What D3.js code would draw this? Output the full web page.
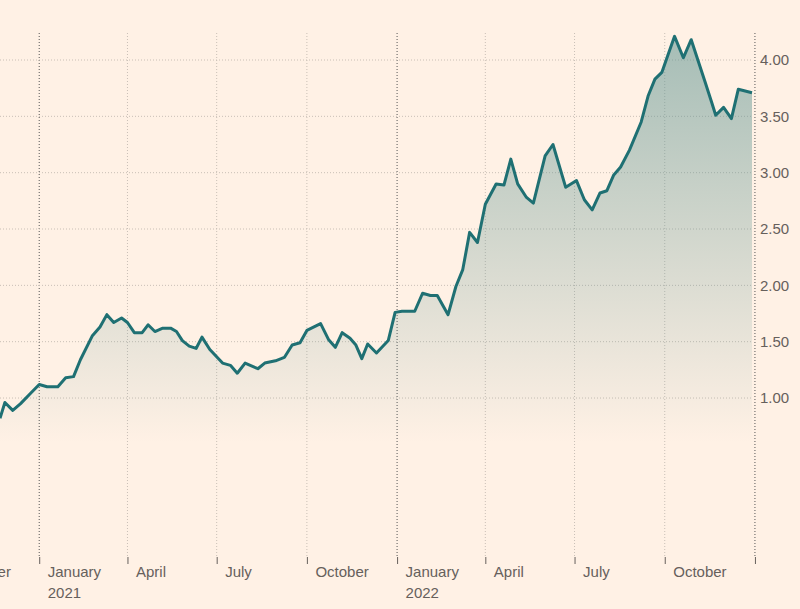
<!DOCTYPE html>
<html>
<head>
<meta charset="utf-8">
<script src="https://cdn.jsdelivr.net/npm/d3@7"></script>
<style>
  body { margin: 0; background: #fff1e5; }
  svg { display: block; font-family: "Liberation Sans", Arial, sans-serif; }
</style>
</head>
<body>
<svg id="chart" width="800" height="609"></svg>
<script>
const W = 800;
const H = 609;

const dates = [
  '2020-11-22','2020-11-27','2020-12-05','2020-12-13','2020-12-23','2021-01-01','2021-01-09','2021-01-20',
  '2021-01-28','2021-02-05','2021-02-12','2021-02-24','2021-03-04','2021-03-11','2021-03-18','2021-03-26',
  '2021-04-01','2021-04-08','2021-04-16','2021-04-22','2021-04-29','2021-05-07','2021-05-15','2021-05-21',
  '2021-05-27','2021-06-03','2021-06-10','2021-06-16','2021-06-24','2021-07-07','2021-07-15','2021-07-22',
  '2021-07-30','2021-08-12','2021-08-19','2021-08-30','2021-09-08','2021-09-16','2021-09-24','2021-10-01',
  '2021-10-15','2021-10-23','2021-10-30','2021-11-06','2021-11-14','2021-11-20','2021-11-26','2021-12-02',
  '2021-12-11','2021-12-23','2021-12-30','2022-01-06','2022-01-19','2022-01-27','2022-02-04','2022-02-11',
  '2022-02-22','2022-03-02','2022-03-09','2022-03-16','2022-03-24','2022-04-01','2022-04-12','2022-04-20',
  '2022-04-27','2022-05-04','2022-05-13','2022-05-20','2022-06-01','2022-06-09','2022-06-22','2022-07-03',
  '2022-07-11','2022-07-19','2022-07-27','2022-08-03','2022-08-10','2022-08-17','2022-08-26','2022-09-07',
  '2022-09-14','2022-09-21','2022-09-28','2022-10-11','2022-10-20','2022-10-28','2022-11-11','2022-11-18',
  '2022-11-22','2022-11-30','2022-12-08','2022-12-15','2022-12-29'
];
const values = [
  0.82, 0.96, 0.89, 0.95, 1.04, 1.12, 1.10, 1.10,
  1.18, 1.19, 1.34, 1.55, 1.63, 1.74, 1.67, 1.71,
  1.67, 1.58, 1.58, 1.65, 1.59, 1.62, 1.62, 1.59,
  1.51, 1.46, 1.44, 1.54, 1.43, 1.31, 1.29, 1.22,
  1.31, 1.26, 1.31, 1.33, 1.36, 1.47, 1.49, 1.60,
  1.66, 1.52, 1.45, 1.58, 1.53, 1.47, 1.35, 1.48,
  1.40, 1.51, 1.76, 1.77, 1.77, 1.93, 1.91, 1.91,
  1.74, 1.99, 2.14, 2.47, 2.38, 2.72, 2.90, 2.89,
  3.12, 2.90, 2.78, 2.73, 3.15, 3.25, 2.87, 2.93,
  2.76, 2.67, 2.82, 2.84, 2.98, 3.05, 3.20, 3.45,
  3.68, 3.83, 3.89, 4.21, 4.02, 4.18, 3.81, 3.62,
  3.51, 3.58, 3.48, 3.74, 3.71
];
const yTicks = [1, 1.5, 2, 2.5, 3, 3.5, 4];
const monthNames = ['January', 'April', 'July', 'October'];

const parse = d3.timeParse('%Y-%m-%d');
const data = dates.map((d, i) => ({ date: parse(d), value: values[i] }));

const svg = d3.select('#chart');
const plotRight = 752;
const plotTop = 33;
const plotBottom = 557;

const x = d3.scaleTime()
  .domain([parse('2020-11-22'), parse('2022-12-29')])
  .range([0, plotRight]);
const y = d3.scaleLinear()
  .domain([-0.411, 4.3])
  .range([plotBottom, 26.2]);

const lastDate = parse('2023-01-01');

// gradient for area
const grad = svg.append('defs').append('linearGradient')
  .attr('id', 'fade')
  .attr('gradientUnits', 'userSpaceOnUse')
  .attr('x1', 0).attr('x2', 0)
  .attr('y1', y(4.2)).attr('y2', y(0.6));
grad.append('stop').attr('offset', 0).attr('stop-color', '#5d9390').attr('stop-opacity', 0.55);
grad.append('stop').attr('offset', 1).attr('stop-color', '#5d9390').attr('stop-opacity', 0);

// vertical grid
const quarters = d3.timeMonth.every(3).range(parse('2020-10-01'), parse('2023-01-02'));
svg.append('g')
  .selectAll('line')
  .data(quarters.filter(d => x(d) > 0))
  .join('line')
  .attr('x1', d => x(d)).attr('x2', d => x(d))
  .attr('y1', plotTop).attr('y2', plotBottom)
  .attr('stroke', d => d.getMonth() === 0 ? '#555' : '#c9bfb6')
  .attr('stroke-width', 1)
  .attr('stroke-dasharray', '1,2');

// horizontal grid
svg.append('g')
  .selectAll('line')
  .data(yTicks)
  .join('line')
  .attr('x1', 0).attr('x2', plotRight)
  .attr('y1', d => y(d)).attr('y2', d => y(d))
  .attr('stroke', '#c9bfb6')
  .attr('stroke-dasharray', '1,2');

// area + line
svg.append('path')
  .datum(data)
  .attr('fill', 'url(#fade)')
  .attr('d', d3.area().x(d => x(d.date)).y0(plotBottom).y1(d => y(d.value)));
svg.append('path')
  .datum(data)
  .attr('fill', 'none')
  .attr('stroke', '#1f7073')
  .attr('stroke-width', 3)
  .attr('stroke-linejoin', 'round')
  .attr('d', d3.line().x(d => x(d.date)).y(d => y(d.value)));

// x axis
const xAxis = d3.axisBottom(x)
  .tickValues(quarters)
  .tickSize(7)
  .tickFormat(d => d >= lastDate ? '' : monthNames[Math.floor(d.getMonth() / 3)]);
const gx = svg.append('g')
  .attr('transform', `translate(0,${plotBottom})`)
  .call(xAxis);
gx.select('.domain').remove();
gx.selectAll('.tick line').attr('stroke', '#66605c');
gx.selectAll('.tick text')
  .attr('text-anchor', 'start')
  .attr('x', 8).attr('y', 9)
  .attr('fill', '#66605c')
  .style('font-size', '15px')
  .each(function (d) {
    if (d.getMonth() === 0 && d < lastDate) {
      d3.select(this).append('tspan')
        .attr('x', 8).attr('dy', '1.45em')
        .text(d.getFullYear());
    }
  });

// y axis on the right
const yAxis = d3.axisRight(y)
  .tickValues(yTicks)
  .tickSize(0)
  .tickFormat(d3.format('.2f'));
const gy = svg.append('g')
  .attr('transform', `translate(${plotRight},0)`)
  .call(yAxis);
gy.select('.domain').remove();
gy.selectAll('.tick text')
  .attr('x', 8)
  .attr('fill', '#66605c')
  .style('font-size', '15px');
</script>
</body>
</html>
